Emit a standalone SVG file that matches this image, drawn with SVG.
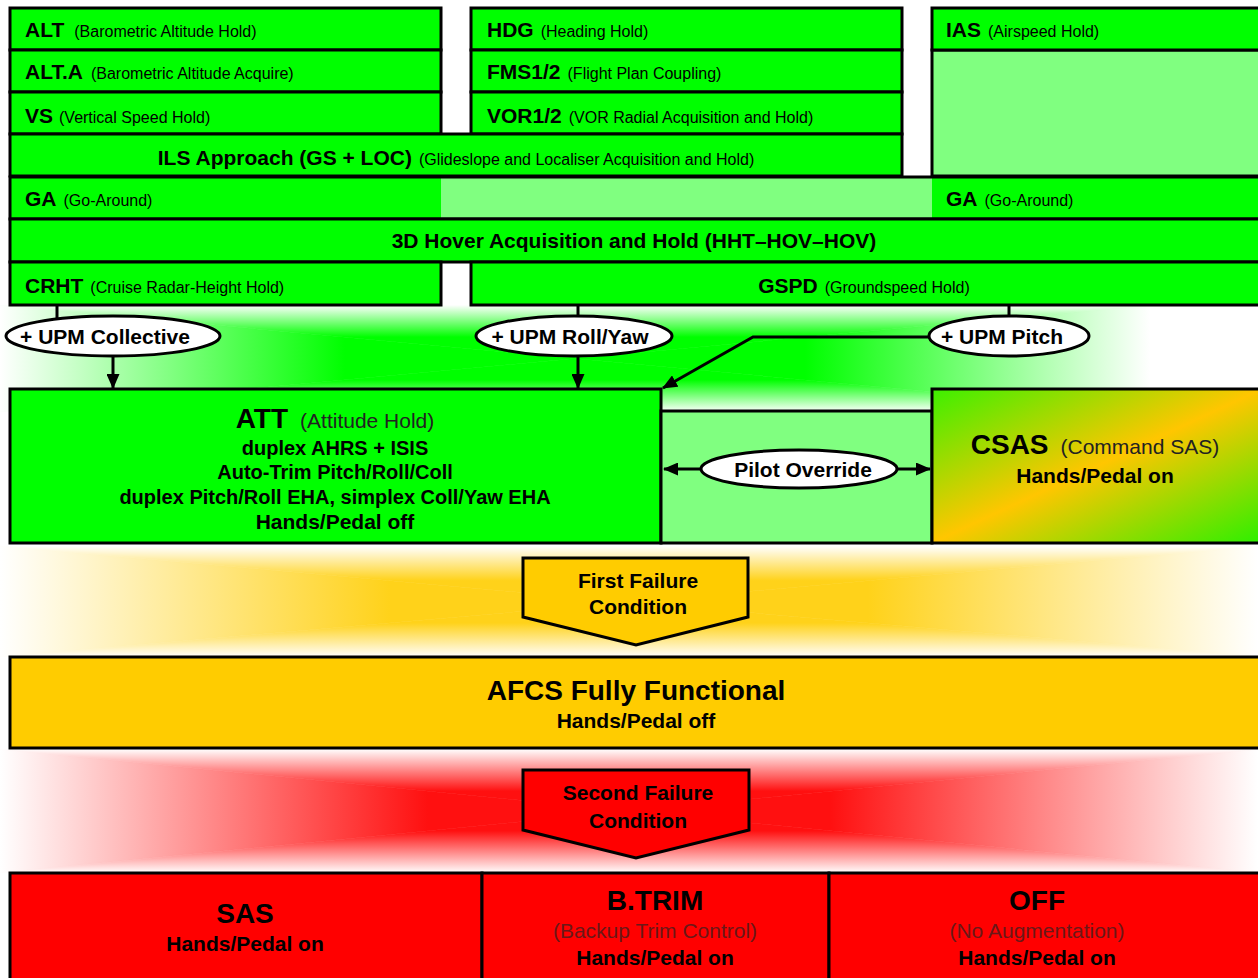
<svg xmlns="http://www.w3.org/2000/svg" width="1258" height="978" viewBox="0 0 1258 978">
<style>
text{font-family:"Liberation Sans",Arial,sans-serif;fill:#000}
.box{stroke:#000;stroke-width:3}
.g{fill:#00ff00}
.lg{fill:#80ff80}
.y{fill:#ffcc00}
.r{fill:#ff0000}
.b{font-weight:bold;font-size:21px}
.s{font-size:16px}
.big{font-weight:bold;font-size:28px}
.sub{font-size:21px;fill:#222}
.subr{font-size:21px;fill:#6a1818}
.l20{font-weight:bold;font-size:20px}
.ell{fill:#fff;stroke:#000;stroke-width:3}
.con{stroke:#000;stroke-width:3;fill:none}
</style>
<defs>
<marker id="ah" viewBox="0 0 15 13" refX="14" refY="6.5" markerWidth="15" markerHeight="13" orient="auto-start-reverse" markerUnits="userSpaceOnUse">
<path d="M0,0 L15,6.5 L0,13 z" fill="#000"/>
</marker>
<linearGradient id="gL" gradientUnits="userSpaceOnUse" x1="0" y1="0" x2="575" y2="0"><stop offset="0" stop-color="#fff"/><stop offset="0.6" stop-color="#00ff00"/><stop offset="1" stop-color="#00ff00"/></linearGradient>
<linearGradient id="gR" gradientUnits="userSpaceOnUse" x1="1150" y1="0" x2="575" y2="0"><stop offset="0" stop-color="#fff"/><stop offset="0.6" stop-color="#00ff00"/><stop offset="1" stop-color="#00ff00"/></linearGradient>
<linearGradient id="gT" gradientUnits="userSpaceOnUse" x1="0" y1="305" x2="0" y2="358.5"><stop offset="0" stop-color="#fff"/><stop offset="0.6" stop-color="#00ff00"/><stop offset="1" stop-color="#00ff00"/></linearGradient>
<linearGradient id="gB" gradientUnits="userSpaceOnUse" x1="0" y1="412" x2="0" y2="358.5"><stop offset="0" stop-color="#fff"/><stop offset="0.6" stop-color="#00ff00"/><stop offset="1" stop-color="#00ff00"/></linearGradient>
<linearGradient id="yL" gradientUnits="userSpaceOnUse" x1="0" y1="0" x2="629" y2="0"><stop offset="0" stop-color="#fff"/><stop offset="0.62" stop-color="#ffd21a"/><stop offset="1" stop-color="#ffd21a"/></linearGradient>
<linearGradient id="yR" gradientUnits="userSpaceOnUse" x1="1258" y1="0" x2="629" y2="0"><stop offset="0" stop-color="#fff"/><stop offset="0.62" stop-color="#ffd21a"/><stop offset="1" stop-color="#ffd21a"/></linearGradient>
<linearGradient id="yT" gradientUnits="userSpaceOnUse" x1="0" y1="546" x2="0" y2="602"><stop offset="0" stop-color="#fff"/><stop offset="0.62" stop-color="#ffd21a"/><stop offset="1" stop-color="#ffd21a"/></linearGradient>
<linearGradient id="yB" gradientUnits="userSpaceOnUse" x1="0" y1="657" x2="0" y2="602"><stop offset="0" stop-color="#fff"/><stop offset="0.62" stop-color="#ffd21a"/><stop offset="1" stop-color="#ffd21a"/></linearGradient>
<linearGradient id="rL" gradientUnits="userSpaceOnUse" x1="0" y1="0" x2="629" y2="0"><stop offset="0" stop-color="#fff"/><stop offset="0.68" stop-color="#ff1010"/><stop offset="1" stop-color="#ff1010"/></linearGradient>
<linearGradient id="rR" gradientUnits="userSpaceOnUse" x1="1258" y1="0" x2="629" y2="0"><stop offset="0" stop-color="#fff"/><stop offset="0.68" stop-color="#ff1010"/><stop offset="1" stop-color="#ff1010"/></linearGradient>
<linearGradient id="rT" gradientUnits="userSpaceOnUse" x1="0" y1="749" x2="0" y2="811"><stop offset="0" stop-color="#fff"/><stop offset="0.68" stop-color="#ff1010"/><stop offset="1" stop-color="#ff1010"/></linearGradient>
<linearGradient id="rB" gradientUnits="userSpaceOnUse" x1="0" y1="873" x2="0" y2="811"><stop offset="0" stop-color="#fff"/><stop offset="0.68" stop-color="#ff1010"/><stop offset="1" stop-color="#ff1010"/></linearGradient>
<linearGradient id="csas" x1="0" y1="0" x2="1" y2="1"><stop offset="0" stop-color="#3cf000"/><stop offset="0.5" stop-color="#ffc600"/><stop offset="1" stop-color="#2cf000"/></linearGradient>
</defs>

<g id="glows">
<g id="glow-green">
<polygon points="0,305 0,412 575,358.5" fill="url(#gL)" stroke="url(#gL)" stroke-width="0.6"/>
<polygon points="1150,305 1150,412 575,358.5" fill="url(#gR)" stroke="url(#gR)" stroke-width="0.6"/>
<polygon points="0,305 1150,305 575,358.5" fill="url(#gT)" stroke="url(#gT)" stroke-width="0.6"/>
<polygon points="0,412 1150,412 575,358.5" fill="url(#gB)" stroke="url(#gB)" stroke-width="0.6"/>
</g>
<g id="glow-yellow">
<polygon points="0,546 0,657 629,602" fill="url(#yL)" stroke="url(#yL)" stroke-width="0.6"/>
<polygon points="1258,546 1258,657 629,602" fill="url(#yR)" stroke="url(#yR)" stroke-width="0.6"/>
<polygon points="0,546 1258,546 629,602" fill="url(#yT)" stroke="url(#yT)" stroke-width="0.6"/>
<polygon points="0,657 1258,657 629,602" fill="url(#yB)" stroke="url(#yB)" stroke-width="0.6"/>
</g>
<g id="glow-red">
<polygon points="0,749 0,873 629,811" fill="url(#rL)" stroke="url(#rL)" stroke-width="0.6"/>
<polygon points="1258,749 1258,873 629,811" fill="url(#rR)" stroke="url(#rR)" stroke-width="0.6"/>
<polygon points="0,749 1258,749 629,811" fill="url(#rT)" stroke="url(#rT)" stroke-width="0.6"/>
<polygon points="0,873 1258,873 629,811" fill="url(#rB)" stroke="url(#rB)" stroke-width="0.6"/>
</g>
</g>

<g id="node-alt"><rect class="box g" x="10" y="8" width="431" height="42"/><text x="25" y="37"><tspan class="b">ALT</tspan><tspan class="s" dx="10">(Barometric Altitude Hold)</tspan></text></g>
<g id="node-alta"><rect class="box g" x="10" y="50" width="431" height="42"/><text x="25" y="79"><tspan class="b">ALT.A</tspan><tspan class="s" dx="8">(Barometric Altitude Acquire)</tspan></text></g>
<g id="node-vs"><rect class="box g" x="10" y="92" width="431" height="42"/><text x="25" y="123"><tspan class="b">VS</tspan><tspan class="s" dx="6">(Vertical Speed Hold)</tspan></text></g>
<g id="node-hdg"><rect class="box g" x="471" y="8" width="431" height="42"/><text x="487" y="37"><tspan class="b">HDG</tspan><tspan class="s" dx="7">(Heading Hold)</tspan></text></g>
<g id="node-fms"><rect class="box g" x="471" y="50" width="431" height="42"/><text x="487" y="79"><tspan class="b">FMS1/2</tspan><tspan class="s" dx="7">(Flight Plan Coupling)</tspan></text></g>
<g id="node-vor"><rect class="box g" x="471" y="92" width="431" height="42"/><text x="487" y="123"><tspan class="b">VOR1/2</tspan><tspan class="s" dx="7">(VOR Radial Acquisition and Hold)</tspan></text></g>
<g id="node-ias"><rect class="box lg" x="932" y="50" width="330" height="126"/><rect class="box g" x="932" y="8" width="330" height="42"/><text x="946" y="37"><tspan class="b">IAS</tspan><tspan class="s" dx="7">(Airspeed Hold)</tspan></text></g>
<g id="node-ils"><rect class="box g" x="10" y="134" width="892" height="42"/><text x="456" y="165" text-anchor="middle"><tspan class="b">ILS Approach (GS + LOC)</tspan><tspan class="s" dx="7">(Glideslope and Localiser Acquisition and Hold)</tspan></text></g>
<g id="node-ga">
<rect class="lg" x="10" y="177" width="1252" height="42"/>
<rect class="g" x="10" y="177" width="431" height="42"/>
<rect class="g" x="932" y="177" width="330" height="42"/>
<rect class="box" fill="none" x="10" y="177" width="1252" height="42"/>
<text x="25" y="206"><tspan class="b">GA</tspan><tspan class="s" dx="7">(Go-Around)</tspan></text>
<text x="946" y="206"><tspan class="b">GA</tspan><tspan class="s" dx="7">(Go-Around)</tspan></text>
</g>
<g id="node-hover"><rect class="box g" x="10" y="219" width="1252" height="43"/><text class="b" x="634" y="248" text-anchor="middle">3D Hover Acquisition and Hold (HHT–HOV–HOV)</text></g>
<g id="node-crht"><rect class="box g" x="10" y="262" width="431" height="43"/><text x="25" y="293"><tspan class="b">CRHT</tspan><tspan class="s" dx="7">(Cruise Radar-Height Hold)</tspan></text></g>
<g id="node-gspd"><rect class="box g" x="471" y="262" width="791" height="43"/><text x="864" y="293" text-anchor="middle"><tspan class="b">GSPD</tspan><tspan class="s" dx="7">(Groundspeed Hold)</tspan></text></g>

<g id="node-att"><rect class="box g" x="10" y="389" width="651" height="154"/>
<text x="335" y="428" text-anchor="middle"><tspan class="big">ATT</tspan><tspan class="sub" dx="12">(Attitude Hold)</tspan></text>
<text class="l20" x="335" y="455" text-anchor="middle">duplex AHRS + ISIS</text>
<text class="l20" x="335" y="479" text-anchor="middle">Auto-Trim Pitch/Roll/Coll</text>
<text class="l20" x="335" y="504" text-anchor="middle">duplex Pitch/Roll EHA, simplex Coll/Yaw EHA</text>
<text class="b" x="335" y="529" text-anchor="middle">Hands/Pedal off</text>
</g>
<g id="node-override-zone"><rect class="box lg" x="661" y="411" width="271" height="132"/></g>
<g id="node-csas"><rect class="box" fill="url(#csas)" x="932" y="389" width="330" height="154"/>
<text x="1095" y="454" text-anchor="middle"><tspan class="big">CSAS</tspan><tspan class="sub" dx="12">(Command SAS)</tspan></text>
<text class="b" x="1095" y="483" text-anchor="middle">Hands/Pedal on</text>
</g>

<g id="node-first-failure"><polygon class="box y" points="523,558 748,558 748,617 636,645 523,617"/>
<text class="b" x="638" y="588" text-anchor="middle">First Failure</text>
<text class="b" x="638" y="614" text-anchor="middle">Condition</text>
</g>
<g id="node-afcs"><rect class="box y" x="10" y="657" width="1252" height="91"/>
<text class="big" x="636" y="700" text-anchor="middle">AFCS Fully Functional</text>
<text class="b" x="636" y="728" text-anchor="middle">Hands/Pedal off</text>
</g>
<g id="node-second-failure"><polygon class="box r" points="523,770 749,770 749,830 636,858 523,830"/>
<text class="b" x="638" y="800" text-anchor="middle">Second Failure</text>
<text class="b" x="638" y="828" text-anchor="middle">Condition</text>
</g>
<g id="node-sas"><rect class="box r" x="10" y="873" width="472" height="110"/>
<text class="big" x="245" y="923" text-anchor="middle">SAS</text>
<text class="b" x="245" y="951" text-anchor="middle">Hands/Pedal on</text>
</g>
<g id="node-btrim"><rect class="box r" x="482" y="873" width="347" height="110"/>
<text class="big" x="655" y="910" text-anchor="middle">B.TRIM</text>
<text class="subr" x="655" y="938" text-anchor="middle">(Backup Trim Control)</text>
<text class="b" x="655" y="965" text-anchor="middle">Hands/Pedal on</text>
</g>
<g id="node-off"><rect class="box r" x="829" y="873" width="433" height="110"/>
<text class="big" x="1037" y="910" text-anchor="middle">OFF</text>
<text class="subr" x="1037" y="938" text-anchor="middle">(No Augmentation)</text>
<text class="b" x="1037" y="965" text-anchor="middle">Hands/Pedal on</text>
</g>

<g id="connectors">
<line class="con" x1="57" y1="305" x2="57" y2="319"/>
<line class="con" x1="113" y1="356" x2="113" y2="388" marker-end="url(#ah)"/>
<line class="con" x1="578" y1="305" x2="578" y2="317"/>
<line class="con" x1="578" y1="356" x2="578" y2="388" marker-end="url(#ah)"/>
<line class="con" x1="1009" y1="305" x2="1009" y2="317"/>
<polyline class="con" points="930,337 753,337 663,388" marker-end="url(#ah)"/>
<line class="con" x1="664" y1="469" x2="930" y2="469" marker-start="url(#ah)" marker-end="url(#ah)"/>
</g>

<g id="node-upm-collective"><ellipse class="ell" cx="113" cy="336" rx="107" ry="20"/><text class="b" x="105" y="344" text-anchor="middle">+ UPM Collective</text></g>
<g id="node-upm-rollyaw"><ellipse class="ell" cx="574" cy="336" rx="98" ry="20"/><text class="b" x="570" y="344" text-anchor="middle">+ UPM Roll/Yaw</text></g>
<g id="node-upm-pitch"><ellipse class="ell" cx="1009" cy="336" rx="80" ry="20"/><text class="b" x="1002" y="344" text-anchor="middle">+ UPM Pitch</text></g>
<g id="node-pilot-override"><ellipse class="ell" cx="799" cy="469" rx="98" ry="19"/><text class="b" x="803" y="477" text-anchor="middle">Pilot Override</text></g>
</svg>
